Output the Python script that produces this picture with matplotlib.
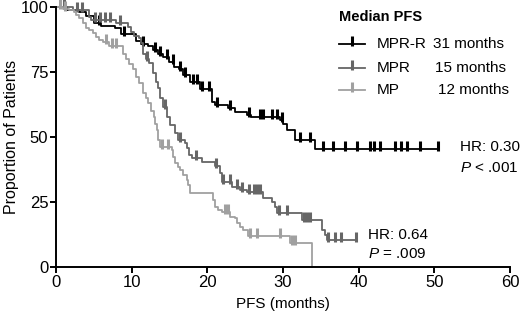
import numpy as np
import matplotlib
matplotlib.use('Agg')
import matplotlib.pyplot as plt
from matplotlib.path import Path

plt.rcParams['font.family'] = ['Liberation Sans', 'DejaVu Sans']
plt.rcParams['mathtext.fontset'] = 'custom'
plt.rcParams['mathtext.it'] = 'Liberation Sans:italic'
plt.rcParams['mathtext.rm'] = 'Liberation Sans'

arms = ['MPR-R', 'MPR', 'MP']
medians = ['31 months', '15 months', '12 months']
colors = ['#000000', '#666666', '#a0a0a0']

# MPR-R: step times (months), survival after step (%), censored times
t_mprr = [0, 1.5, 3.0, 4.0, 5.0, 5.9, 7.8, 8.6, 10.6, 11.2, 12.2, 12.8, 13.5, 14.1, 14.9,
          15.6, 16.2, 16.8, 17.7, 19.0, 20.6, 21.0, 22.7, 23.6, 25.2, 25.8, 29.6, 30.0,
          30.5, 31.6, 34.2]
s_mprr = [100, 99, 98, 96.5, 94, 92.7, 92, 89.6, 87, 85.7, 85, 83.5, 82, 80.8, 79,
          77, 76, 74, 71, 68.5, 63.5, 62.3, 61, 59.6, 58.5, 57.7, 56.5, 55,
          52.7, 48.8, 45.4]
c_mprr = [5.7, 9.0, 11.5, 13.1, 13.7, 14.7, 15.5, 16.4, 17.0, 18.1, 18.6, 19.3, 20.2,
          21.3, 23.0, 25.5, 26.9, 27.3, 28.5, 29.2, 29.9, 32.2, 33.6, 35.3, 36.6, 38.2,
          39.8, 41.5, 42.0, 42.8, 44.8, 45.6, 46.4, 48.1, 50.5]

# MPR
t_mpr = [0, 2.2, 4.4, 4.6, 7.9, 9.5, 9.9, 10.3, 11.0, 11.2, 11.5, 11.9, 12.3, 12.8,
         13.2, 13.5, 13.8, 14.1, 14.7, 15.1, 15.7, 16.1, 17.0, 17.3, 17.6, 18.0, 19.3,
         21.0, 21.7, 21.9, 23.2, 24.3, 25.2, 27.3, 28.5, 28.9, 29.2, 32.5, 35.1, 35.5,
         35.8]
s_mpr = [100, 98.8, 96, 95, 93.8, 92.3, 90.4, 89, 88, 86, 82, 80, 78.5, 74.6,
         71, 69, 65, 61.5, 57.7, 54.6, 51.5, 48.8, 47.7, 45.8, 43, 42, 40.4,
         39, 36, 32.7, 30.8, 29.6, 28.8, 26.5, 25, 23, 20.8, 18, 14.2, 12.3,
         10.4]
c_mpr = [1.0, 2.8, 3.5, 5.2, 5.8, 6.5, 7.2, 8.5, 12.0, 14.4, 16.4, 18.5, 21.2, 22.1,
         23.0, 23.9, 24.6, 25.5, 26.2, 26.6, 27.0, 29.5, 30.5, 32.8, 33.2, 33.6, 36.0,
         36.9, 37.6, 39.7]

# MP
t_mp = [0, 0.9, 1.7, 2.4, 2.6, 3.0, 3.6, 4.0, 4.4, 4.9, 5.3, 5.7, 6.2, 7.0, 8.9, 9.2,
        9.6, 10.2, 10.6, 11.0, 11.5, 11.9, 12.2, 12.6, 12.9, 13.1, 13.3, 13.5, 13.7,
        15.3, 15.5, 15.7, 16.1, 16.4, 16.8, 17.3, 17.4, 17.7, 20.7, 21.0, 21.4, 21.9,
        23.0, 23.6, 23.9, 24.3, 24.7, 25.4, 30.9, 33.8]
s_mp = [100, 99.4, 98.8, 98, 97, 95.8, 94, 92, 91, 90, 88.5, 87.3, 86.5, 85, 82, 80,
        78, 76, 73, 70.8, 67, 65, 63, 60, 57.7, 55, 52.7, 48.8, 46,
        45, 42.3, 40, 38.5, 37.3, 35.4, 33.5, 31.5, 28.5, 25.8, 23, 22, 21,
        19.2, 18.8, 17, 15.4, 14.2, 12, 9.2, 0]
c_mp = [0.5, 1.2, 6.6, 7.4, 7.9, 14.0, 14.8, 22.3, 22.7, 25.6, 26.6, 29.6, 31.2, 31.6]

times = [t_mprr, t_mpr, t_mp]
surv = [s_mprr, s_mpr, s_mp]
cens = [c_mprr, c_mpr, c_mp]

tick = Path([(0, -0.2), (0, 1)])  # censor mark, pointing up

fig = plt.figure(figsize=(5.2, 3.16), dpi=100)
ax = fig.add_axes([56/520, 49/316, 454/520, 260/316])

for t, s, c, col in zip(times, surv, cens, colors):
    t = list(t)
    s = list(s)
    if max(c) > t[-1] and s[-1] > 0:
        t.append(max(c))
        s.append(s[-1])
    ax.step(t, s, where='post', color=col, lw=1.3, clip_on=False)
    idx = np.searchsorted(t, c, side='right') - 1
    ax.plot(c, np.array(s)[idx], ls='none', marker=tick, ms=11, mew=2.2,
            color=col, clip_on=False)

ax.set_xlim(0, 60)
ax.set_ylim(0, 100)
ax.set_xticks(range(0, 61, 10))
ax.set_yticks([0, 25, 50, 75, 100])
for sp in ['top', 'right']:
    ax.spines[sp].set_visible(False)
for sp in ['left', 'bottom']:
    ax.spines[sp].set_linewidth(1.4)
ax.tick_params(direction='out', length=4, width=1.4, labelsize=12, pad=1.5)
ax.set_xlabel('PFS (months)', fontsize=11, labelpad=5)
ax.set_ylabel('Proportion of Patients', fontsize=11.5, va='center')
ax.yaxis.set_label_coords(-0.097, 0.5)

# legend drawn by hand
ax.text(0.624, 0.96, 'Median PFS', transform=ax.transAxes, fontsize=10.5,
        fontweight='bold', va='center', ha='left')
rows = [0.857, 0.765, 0.68]
mx = [0.830, 0.835, 0.841]
for i in range(3):
    y = rows[i]
    ax.plot([0.624, 0.68], [y, y], transform=ax.transAxes, color=colors[i], lw=1.3,
            clip_on=False)
    ax.plot([0.652], [y], transform=ax.transAxes, marker=tick, ms=11, mew=2.2,
            color=colors[i], clip_on=False)
    ax.text(0.706, y, arms[i], transform=ax.transAxes, fontsize=11, va='center')
    ax.text(mx[i], y, medians[i], transform=ax.transAxes, fontsize=11, va='center')

ax.text(0.89, 0.4615, 'HR: 0.30', transform=ax.transAxes, fontsize=11, va='center')
ax.text(0.89, 0.381, '$\\it{P}$ < .001', transform=ax.transAxes, fontsize=11, va='center')
ax.text(0.687, 0.123, 'HR: 0.64', transform=ax.transAxes, fontsize=11, va='center')
ax.text(0.687, 0.05, '$\\it{P}$ = .009', transform=ax.transAxes, fontsize=11, va='center')

plt.savefig('out.png', dpi=100)
